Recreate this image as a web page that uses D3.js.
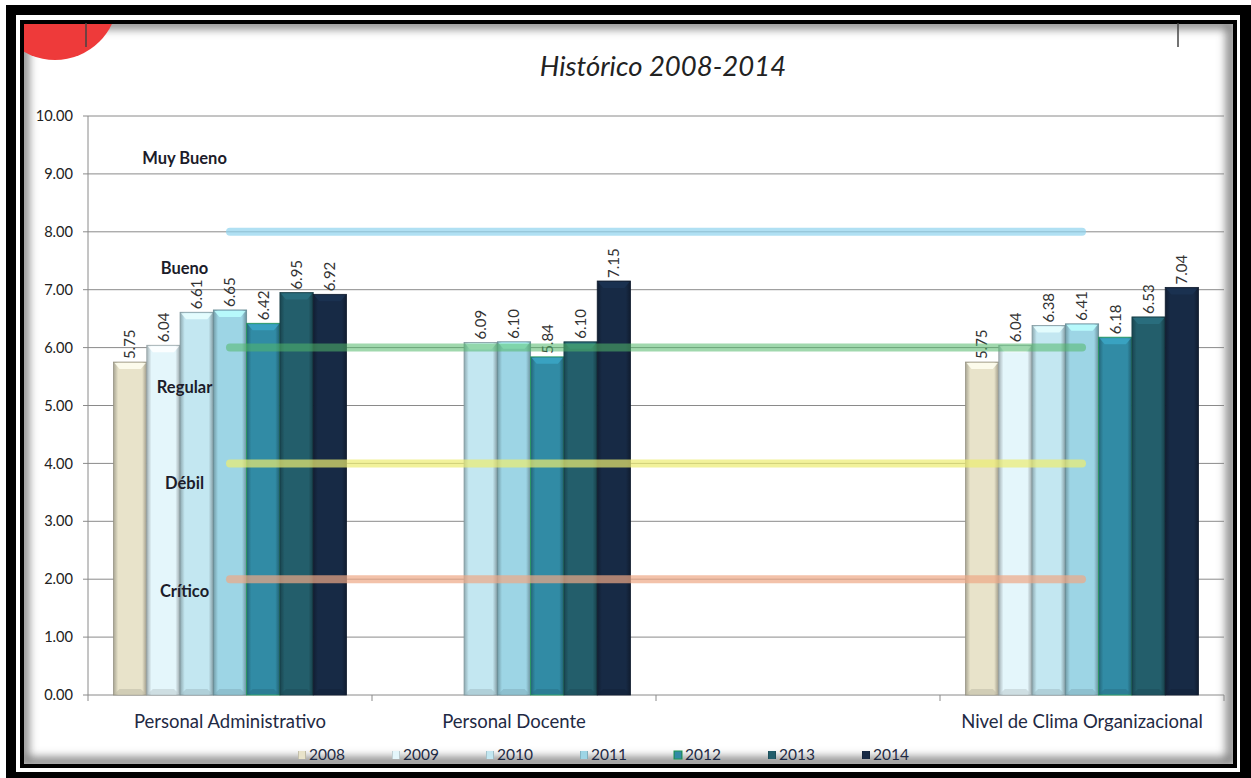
<!DOCTYPE html>
<html>
<head>
<meta charset="utf-8">
<script src="https://cdn.jsdelivr.net/npm/d3@7"></script>
<style>
  html, body { margin: 0; padding: 0; background: #fff; }
  svg { display: block; }
</style>
</head>
<body>
<svg></svg>
<script>
// data
var categories = ["Personal Administrativo", "Personal Docente", "", "Nivel de Clima Organizacional"];
var years = ["2008", "2009", "2010", "2011", "2012", "2013", "2014"];
var adminValues = [5.75, 6.04, 6.61, 6.65, 6.42, 6.95, 6.92];
var docenteValues = [null, null, 6.09, 6.10, 5.84, 6.10, 7.15];
var emptyValues = [null, null, null, null, null, null, null];
var climaValues = [5.75, 6.04, 6.38, 6.41, 6.18, 6.53, 7.04];
var yearColors = ["#e8e3ca", "#e4f6fb", "#c3e7f1", "#9dd5e5", "#318ba5", "#235e6b", "#172a45"];
var yTicks = [0, 1, 2, 3, 4, 5, 6, 7, 8, 9, 10];
var levelLines = [8, 6, 4, 2];
var levelColors = ["#8fd3ee", "#52b86a", "#ecec70", "#eea886"];
var levelNames = ["Muy Bueno", "Bueno", "Regular", "Débil", "Crítico"];
var levelNamePos = [9.27, 7.37, 5.32, 3.66, 1.8];

var width = 1251,
    height = 778;
var font = 'Lato, sans-serif';

var svg = d3.select('svg')
    .attr('width', width)
    .attr('height', height);
var defs = svg.append('defs');

// slide frame
svg.append('rect').attr('x', 6).attr('y', 5).attr('width', 1245).attr('height', 773).attr('fill', '#000');
svg.append('rect').attr('x', 16).attr('y', 15).attr('width', 1224).attr('height', 757).attr('fill', '#fff');
svg.append('rect').attr('x', 20).attr('y', 20).attr('width', 1217).attr('height', 748).attr('fill', '#000');
svg.append('rect').attr('x', 24).attr('y', 24).attr('width', 1209).attr('height', 740).attr('fill', '#fff');

// inner shadow of the chart box
var shadow = defs.append('filter').attr('id', 'blur').attr('x', '-5%').attr('y', '-5%').attr('width', '110%').attr('height', '110%');
shadow.append('feGaussianBlur').attr('stdDeviation', 5);
defs.append('clipPath').attr('id', 'box')
    .append('rect').attr('x', 24).attr('y', 24).attr('width', 1209).attr('height', 740);
var boxG = svg.append('g').attr('clip-path', 'url(#box)');
boxG.append('rect')
    .attr('x', 22).attr('y', 22).attr('width', 1207).attr('height', 738)
    .attr('fill', 'none').attr('stroke', '#777').attr('stroke-width', 9)
    .attr('transform', 'translate(2,2)')
    .attr('filter', 'url(#blur)');
// red corner decoration
boxG.append('circle').attr('cx', 55).attr('cy', -3).attr('r', 63).attr('fill', '#ee3a3a');
svg.append('line').attr('x1', 86).attr('x2', 86).attr('y1', 23).attr('y2', 47).attr('stroke', '#444').attr('stroke-width', 1.5);
svg.append('line').attr('x1', 1178).attr('x2', 1178).attr('y1', 23).attr('y2', 47).attr('stroke', '#444').attr('stroke-width', 1.5);

// title
svg.append('text')
    .attr('x', 663).attr('y', 76)
    .attr('text-anchor', 'middle')
    .attr('font-family', font)
    .attr('font-style', 'italic')
    .attr('font-size', 27.5)
    .attr('fill', '#222')
    .text('Histórico 2008-2014');

// scales
var x = d3.scaleBand().domain(categories).range([88, 1224]);
var xYear = d3.scaleBand().domain(years).range([25.5, x.bandwidth() - 25.5]);
var y = d3.scaleLinear().domain([0, 10]).range([695, 116]);
var color = d3.scaleOrdinal().domain(years).range(yearColors);

var series = [adminValues, docenteValues, emptyValues, climaValues];
var barData = [];
categories.forEach(function (c, ci) {
    years.forEach(function (yr, yi) {
        var v = series[ci][yi];
        if (v != null) barData.push({ cat: c, year: yr, value: v });
    });
});

var g = svg.append('g');

// gridlines + y axis
g.append('g')
    .selectAll('line')
    .data(yTicks)
    .enter()
    .append('line')
    .attr('x1', 83).attr('x2', 1224)
    .attr('y1', d => y(d)).attr('y2', d => y(d))
    .attr('stroke', '#8a8a8a').attr('stroke-width', 1);
g.append('line')
    .attr('x1', 88).attr('x2', 88).attr('y1', y(10)).attr('y2', y(0))
    .attr('stroke', '#8a8a8a');
g.append('g')
    .selectAll('text')
    .data(yTicks)
    .enter()
    .append('text')
    .attr('x', 73).attr('y', d => y(d))
    .attr('dy', '0.35em')
    .attr('text-anchor', 'end')
    .attr('font-family', font)
    .attr('font-size', 14.6)
    .attr('fill', '#222')
    .text(d => d3.format('.2f')(d));

// category ticks
var catEdges = categories.map(c => x(c)).concat([x.range()[1]]);
g.append('g')
    .selectAll('line')
    .data(catEdges)
    .enter()
    .append('line')
    .attr('x1', d => d).attr('x2', d => d)
    .attr('y1', y(0)).attr('y2', y(0) + 6)
    .attr('stroke', '#8a8a8a');
g.append('g')
    .selectAll('text')
    .data(categories)
    .enter()
    .append('text')
    .attr('x', d => x(d) + x.bandwidth() / 2)
    .attr('y', 728)
    .attr('text-anchor', 'middle')
    .attr('font-family', font)
    .attr('font-size', 18.5)
    .attr('fill', '#1f2a44')
    .text(d => d);

// bar gradients (bevelled look)
years.forEach(function (yr) {
    var base = d3.color(color(yr));
    var gr = defs.append('linearGradient').attr('id', 'g' + yr);
    gr.append('stop').attr('offset', '0%').attr('stop-color', base.darker(0.9));
    gr.append('stop').attr('offset', '14%').attr('stop-color', base);
    gr.append('stop').attr('offset', '86%').attr('stop-color', base);
    gr.append('stop').attr('offset', '100%').attr('stop-color', base.darker(1.1));
});

var bw = xYear.bandwidth();
var bars = g.append('g')
    .selectAll('g')
    .data(barData)
    .enter()
    .append('g')
    .attr('transform', d => `translate(${x(d.cat) + xYear(d.year)},0)`);

bars.append('rect')
    .attr('x', 0)
    .attr('y', d => y(d.value))
    .attr('width', bw)
    .attr('height', d => y(0) - y(d.value))
    .attr('fill', d => `url(#g${d.year})`)
    .attr('stroke', d => d.year === '2012' ? '#1f9a55' : d3.color(color(d.year)).darker(1.2))
    .attr('stroke-width', 0.8);
// top bevel
bars.append('path')
    .attr('d', d => {
        var t = y(d.value);
        return `M1,${t + 1}L${bw - 1},${t + 1}L${bw - 6},${t + 7}L6,${t + 7}Z`;
    })
    .attr('fill', d => d3.color(color(d.year)).brighter(0.5))
    .attr('opacity', 0.85);
// bottom bevel
bars.append('path')
    .attr('d', d => {
        var b = y(0);
        return `M1,${b - 1}L${bw - 1},${b - 1}L${bw - 6},${b - 6}L6,${b - 6}Z`;
    })
    .attr('fill', d => d3.color(color(d.year)).darker(0.5))
    .attr('opacity', 0.6);

// value labels
bars.append('text')
    .attr('transform', d => `translate(${bw / 2},${y(d.value) - 3}) rotate(-90)`)
    .attr('dy', '0.35em')
    .attr('font-family', font)
    .attr('font-size', 15)
    .attr('fill', '#333')
    .text(d => d3.format('.2f')(d.value));

// level reference lines
var centers = [categories[0], categories[categories.length - 1]].map(c => x(c) + x.bandwidth() / 2);
g.append('g')
    .selectAll('line')
    .data(levelLines)
    .enter()
    .append('line')
    .attr('x1', centers[0]).attr('x2', centers[1])
    .attr('y1', d => y(d)).attr('y2', d => y(d))
    .attr('stroke', (d, i) => levelColors[i])
    .attr('stroke-width', 8)
    .attr('stroke-linecap', 'round')
    .attr('stroke-opacity', (d, i) => i === 1 ? 0.55 : 0.7);

// level names
g.append('g')
    .selectAll('text')
    .data(levelNames)
    .enter()
    .append('text')
    .attr('x', x(categories[0]) + x.bandwidth() * 0.34)
    .attr('y', (d, i) => y(levelNamePos[i]))
    .attr('dy', '0.35em')
    .attr('text-anchor', 'middle')
    .attr('font-family', font)
    .attr('font-weight', 'bold')
    .attr('font-size', 16.5)
    .attr('fill', '#1c1c2a')
    .text(d => d);

// legend
var legend = g.append('g')
    .selectAll('g')
    .data(years)
    .enter()
    .append('g')
    .attr('transform', (d, i) => `translate(${298 + i * 94},755)`);
legend.append('rect')
    .attr('x', 0).attr('y', -4).attr('width', 8).attr('height', 8)
    .attr('fill', d => `url(#g${d})`)
    .attr('stroke', d => d === '2012' ? '#1f9a55' : 'none');
legend.append('text')
    .attr('x', 11).attr('y', 0)
    .attr('dy', '0.35em')
    .attr('font-family', font)
    .attr('font-size', 15.5)
    .attr('fill', '#1f2a44')
    .text(d => d);
</script>
</body>
</html>
